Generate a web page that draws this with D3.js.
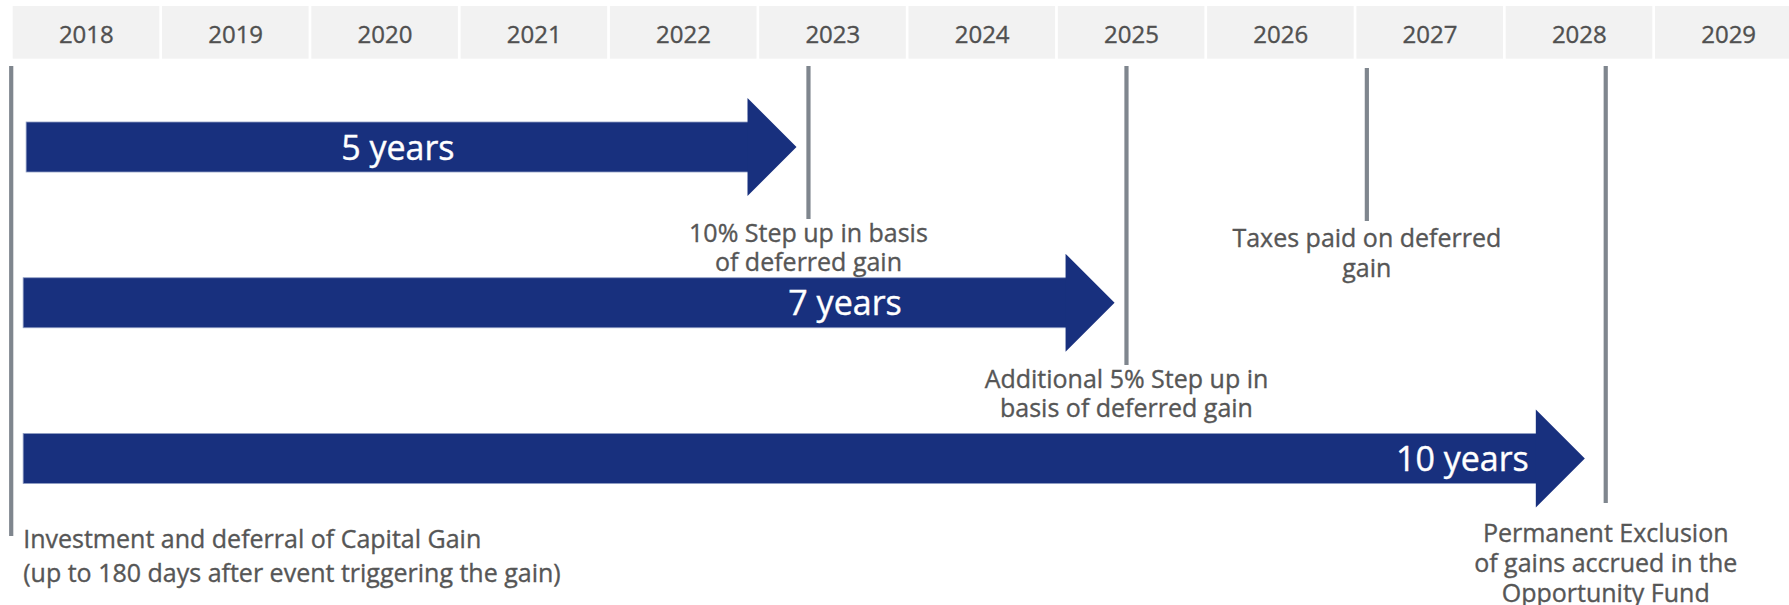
<!DOCTYPE html>
<html>
<head>
<meta charset="utf-8">
<script src="https://cdn.jsdelivr.net/npm/d3@7"></script>
<style>
  body { margin: 0; background: #fff; }
  text { font-family: "Open Sans", sans-serif; }
</style>
</head>
<body>
<svg id="chart" width="1789" height="605"></svg>
<script>
// timeline years shown in the header
const years = [2018, 2019, 2020, 2021, 2022, 2023, 2024, 2025, 2026, 2027, 2028, 2029];

// holding period arrows
const arrowLabels = ['5 years', '7 years', '10 years'];
const arrowStart = [2018.09, 2018.07, 2018.07];
const arrowEnd = [2023.25, 2025.38, 2028.53];
const arrowLabelAt = [2020.58, 2023.575, 2027.71];

// milestone markers
const eventYears = [2017.99, 2023.33, 2025.46, 2027.07, 2028.67];
const eventLabels = [
  ['Investment and deferral of Capital Gain', '(up to 180 days after event triggering the gain)'],
  ['10% Step up in basis', 'of deferred gain'],
  ['Additional 5% Step up in', 'basis of deferred gain'],
  ['Taxes paid on deferred', 'gain'],
  ['Permanent Exclusion', 'of gains accrued in the', 'Opportunity Fund']
];

const width = 1789;
const height = 605;
const step = 149.3;
const x0 = 12.7;

// layout of each marker (line extent, first text baseline, line gap)
const markerLayout = [
  { top: 66, bottom: 536, base: 548, gap: 34, anchor: 'start', dx: 12 },
  { top: 66, bottom: 219, base: 242, gap: 29, anchor: 'middle', dx: 0 },
  { top: 66, bottom: 365, base: 388, gap: 29, anchor: 'middle', dx: 0 },
  { top: 68, bottom: 221, base: 247, gap: 30, anchor: 'middle', dx: 0 },
  { top: 66, bottom: 503, base: 542, gap: 30, anchor: 'middle', dx: 0 }
];

const navy = '#18307e';
const grey = '#7f868e';
const textGrey = '#565656';

const xScale = d3.scaleLinear().domain([2018, 2030]).range([x0, x0 + 12 * step]);
const yScale = d3.scalePoint().domain(arrowLabels).range([147, 458.5]);

const svg = d3.select('#chart');

// header cells
const header = svg.append('g').attr('id', 'header');
header.selectAll('rect')
  .data(years)
  .enter().append('rect')
  .attr('x', d => xScale(d))
  .attr('y', 6)
  .attr('width', d => xScale(d + 1) - xScale(d) - 2.7)
  .attr('height', 52.7)
  .attr('fill', '#f2f2f2');

header.selectAll('text')
  .data(years)
  .enter().append('text')
  .attr('x', d => xScale(d + 0.5) - 1)
  .attr('y', 43)
  .attr('text-anchor', 'middle')
  .attr('font-size', 24)
  .attr('fill', '#505050')
  .attr('stroke', '#505050')
  .attr('stroke-width', 0.35)
  .text(d => d);

// marker lines
const markers = svg.append('g').attr('id', 'markers');
markers.selectAll('line')
  .data(eventYears)
  .enter().append('line')
  .attr('x1', d => xScale(d))
  .attr('x2', d => xScale(d))
  .attr('y1', (d, i) => markerLayout[i].top)
  .attr('y2', (d, i) => markerLayout[i].bottom)
  .attr('stroke', grey)
  .attr('stroke-width', 4.2);

// arrows
const bodyH = 50;
const headH = 98;
const headL = 49;
const arrows = svg.append('g').attr('id', 'arrows');

arrowLabels.forEach((lab, i) => {
  const xs = xScale(arrowStart[i]);
  const xt = xScale(arrowEnd[i]);
  const cy = yScale(lab);
  arrows.append('rect')
    .attr('x', xs)
    .attr('y', cy - bodyH / 2)
    .attr('width', xt - headL - xs + 1)
    .attr('height', bodyH)
    .attr('fill', navy)
    .attr('stroke', '#8f9dc4')
    .attr('stroke-width', 0.8);
  const head = [[xt - headL, cy - headH / 2], [xt, cy], [xt - headL, cy + headH / 2]];
  arrows.append('path')
    .attr('d', d3.line()(head) + 'Z')
    .attr('fill', navy);
  arrows.append('text')
    .attr('x', xScale(arrowLabelAt[i]))
    .attr('y', cy + 12.5)
    .attr('text-anchor', 'middle')
    .attr('font-size', 34)
    .attr('fill', '#ffffff')
    .attr('stroke', '#ffffff')
    .attr('stroke-width', 0.4)
    .text(lab);
});

// marker labels
eventLabels.forEach((lines, i) => {
  const lay = markerLayout[i];
  const t = markers.append('text')
    .attr('text-anchor', lay.anchor)
    .attr('font-size', 25)
    .attr('fill', textGrey)
    .attr('stroke', textGrey)
    .attr('stroke-width', 0.35);
  lines.forEach((s, j) => {
    t.append('tspan')
      .attr('x', xScale(eventYears[i]) + lay.dx)
      .attr('y', lay.base + j * lay.gap)
      .text(s);
  });
});
</script>
</body>
</html>
